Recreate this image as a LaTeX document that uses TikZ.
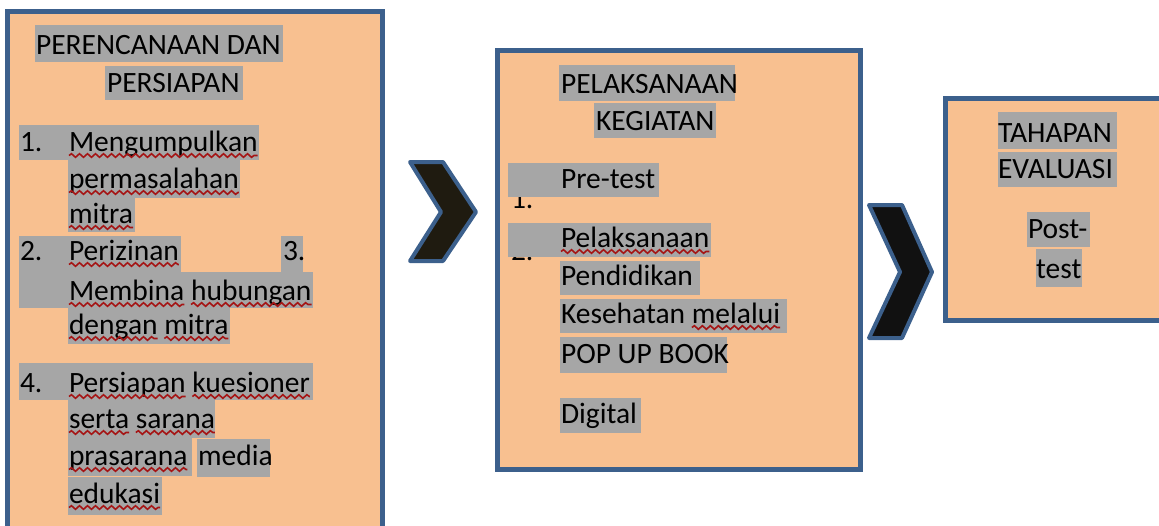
\documentclass[tikz,border=0pt]{standalone}
\usepackage{fontspec}
\setmainfont{Carlito}
\usetikzlibrary{decorations.pathmorphing,positioning}
\definecolor{bluebd}{RGB}{60,96,140}
\definecolor{peach}{RGB}{248,192,144}
\definecolor{hlgray}{RGB}{166,166,166}
\definecolor{squig}{RGB}{165,20,20}
\definecolor{chevA}{RGB}{31,27,16}
\definecolor{chevB}{RGB}{17,17,17}
\newcommand\squiggle[1]{\draw[wavy] ([yshift=-4.5pt]#1.base west) -- ([yshift=-4.5pt]#1.base east);}
\tikzset{
  panel/.style={draw=bluebd, line width=5pt, fill=peach},
  chevron/.style={draw=bluebd, line width=4pt, line join=round},
  hl/.style={fill=hlgray},
  txt/.style={anchor=base west, inner sep=0pt, outer sep=0pt, text=black, font=\fontsize{29.5}{35}\selectfont},
  wavy/.style={draw=squig, line width=1.6pt, decorate, decoration={snake, segment length=8pt, amplitude=1.8pt}},
}
\begin{document}
\begin{tikzpicture}[x=1pt,y=-1pt]
\path[use as bounding box] (0,0) rectangle (1159,525);
\clip (0,0) rectangle (1159,525);
% panels
\path[panel] (7.5,11) rectangle (382.5,545);
\path[panel] (497.5,50) rectangle (860.5,469.5);
\path[panel] (945.5,98) rectangle (1175,320);
% chevrons
\path[chevron, fill=chevA] (410,162) -- (443,162) -- (476,212) -- (443,261) -- (410,261) -- (441,212) -- cycle;
\path[chevron, fill=chevB] (869,205) -- (902,205) -- (932,272) -- (902,338) -- (869,338) -- (900,272) -- cycle;
% ---------- box 1 highlights
\fill[hl] (35,25) rectangle (283,62);
\fill[hl] (105,66) rectangle (243,100);
\fill[hl] (19,125) rectangle (259,160);
\fill[hl] (68,160) rectangle (240,198);
\fill[hl] (68,198) rectangle (135,232);
\fill[hl] (19,236) rectangle (181,272);
\fill[hl] (281,236) rectangle (303,272);
\fill[hl] (19,272) rectangle (313,308);
\fill[hl] (68,308) rectangle (230,344);
\fill[hl] (19,363) rectangle (313,400);
\fill[hl] (68,400) rectangle (215,438);
\fill[hl] (68,438) rectangle (192,476);
\fill[hl] (197,439) rectangle (270,477);
\fill[hl] (68,477) rectangle (162,515);
% ---------- box 2 hidden numbers, then highlights
\node[txt] (bn1) at (511,208) {1.};
\node[txt] (bn2) at (511,260) {2.};
\fill[hl] (559,65) rectangle (735,101);
\fill[hl] (594,103) rectangle (716,138);
\fill[hl] (508,163) rectangle (659,197);
\fill[hl] (508,223) rectangle (711,257);
\fill[hl] (560,261) rectangle (700,295);
\fill[hl] (560,299) rectangle (787,333);
\fill[hl] (560,337) rectangle (727,373);
\fill[hl] (560,398) rectangle (641,433);
% ---------- box 3 highlights
\fill[hl] (998,112) rectangle (1117,149);
\fill[hl] (998,152) rectangle (1117,187);
\fill[hl] (1027,212) rectangle (1090,247);
\fill[hl] (1036,249) rectangle (1082,287);
% ---------- box 1 text
\node[txt] (t1) at (36,54) {PERENCANAAN DAN};
\node[txt] (t2) at (107,92) {PERSIAPAN};
\node[txt] (n1) at (20,151) {1.};
\node[txt] (w1) at (69,151) {Mengumpulkan};
\node[txt] (w2) at (69,188) {permasalahan};
\node[txt] (w3) at (69,223) {mitra};
\node[txt] (n2) at (20,260) {2.};
\node[txt] (w4) at (69,260) {Perizinan};
\node[txt] (n3) at (283,260) {3.};
\node[txt] (w5) at (69,300) {Membina};
\node[txt] (w6) at ([xshift=6.7pt]w5.base east) {hubungan};
\node[txt] (w7) at (69,334) {dengan};
\node[txt] (w8) at ([xshift=6.7pt]w7.base east) {mitra};
\node[txt] (n4) at (20,392) {4.};
\node[txt] (w9) at (69,392) {Persiapan};
\node[txt] (w10) at ([xshift=6.7pt]w9.base east) {kuesioner};
\node[txt] (w11) at (69,428) {serta};
\node[txt] (w12) at ([xshift=6.7pt]w11.base east) {sarana};
\node[txt] (w13) at (69,465) {prasarana};
\node[txt] (w14) at (198,465) {media};
\node[txt] (w15) at (69,503) {edukasi};
% ---------- box 2 text
\node[txt] (b1) at (561,93) {PELAKSANAAN};
\node[txt] (b2) at (596,130) {KEGIATAN};
\node[txt] (b3) at (561,188) {Pre-test};
\node[txt] (b4) at (561,247) {Pelaksanaan};
\node[txt] (b5) at (561,285) {Pendidikan};
\node[txt] (b6) at (561,323) {Kesehatan};
\node[txt] (b7) at ([xshift=6.7pt]b6.base east) {melalui};
\node[txt] (b8) at (561,363) {POP UP BOOK};
\node[txt] (b9) at (561,423) {Digital};
% ---------- box 3 text
\node[txt] (c1) at (998,142) {TAHAPAN};
\node[txt] (c2) at (998,178) {EVALUASI};
\node[txt] (c3) at (1028,238) {Post-};
\node[txt] (c4) at (1036,278) {test};
% ---------- spelling squiggles
\squiggle{w1}\squiggle{w2}\squiggle{w3}\squiggle{w4}\squiggle{w5}\squiggle{w6}
\squiggle{w7}\squiggle{w8}\squiggle{w9}\squiggle{w10}\squiggle{w11}\squiggle{w12}
\squiggle{w13}\squiggle{w15}\squiggle{b4}\squiggle{b7}
\end{tikzpicture}
\end{document}
